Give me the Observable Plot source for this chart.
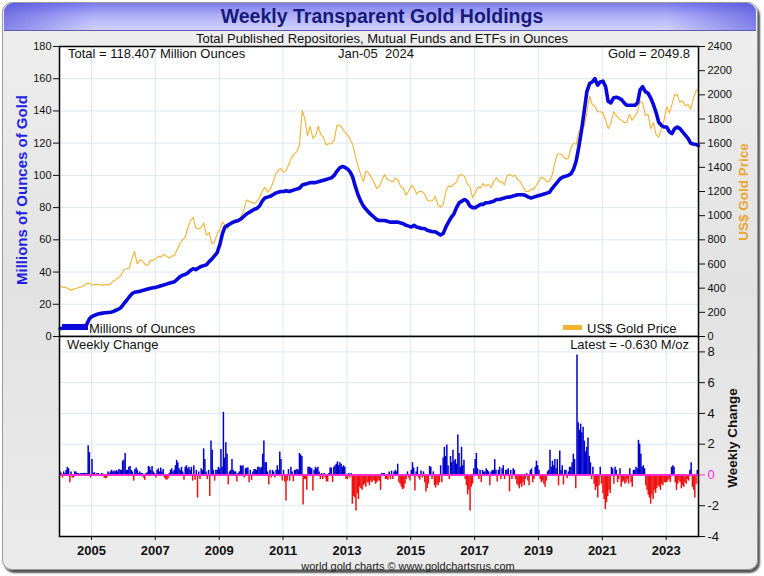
<!DOCTYPE html>
<html><head><meta charset="utf-8">
<script src="https://cdn.jsdelivr.net/npm/d3@7"></script>
<script src="https://cdn.jsdelivr.net/npm/@observablehq/plot@0.6"></script>
<style>
html,body{margin:0;padding:0;background:#fff;}
#chart{position:relative;width:764px;height:576px;overflow:hidden;font-family:"Liberation Sans",Arial,sans-serif;}
.panel{position:absolute;left:2px;top:2px;width:754px;height:566px;border-radius:10px;border:1px solid #9a9a9a;box-shadow:2px 3px 2px #555;background:linear-gradient(to bottom,#efefef,#e2e2e2 50%,#ebebeb);}
.titlebar{position:absolute;left:4px;top:3px;width:752px;height:27px;border-radius:9px 9px 0 0;border-bottom:1px solid #5a5ab0;
 background:linear-gradient(to right,rgba(70,70,215,0.55),rgba(70,70,215,0) 12%,rgba(70,70,215,0) 88%,rgba(70,70,215,0.55)),linear-gradient(to bottom,#7a7aee,#aeaef8 45%,#d2d2ff);}
.layer{position:absolute;left:0;}
.txt{position:absolute;font-size:13px;color:#111;white-space:nowrap;line-height:13px;}
.rot{position:absolute;width:300px;height:18px;line-height:18px;text-align:center;transform:rotate(-90deg);font-weight:bold;white-space:nowrap;}
</style></head>
<body>
<div id="chart">
  <div class="panel"></div>
  <div class="titlebar"></div>
</div>
<script>
// ---- Data ----
const monthYears = d3.range(2004, 2024);
// Total holdings, million oz, monthly Jan 2004 .. Dec 2023, then Jan-05 2024
const holdings = [
  5.0, 5.1, 5.2, 5.3, 5.4, 5.5, 5.6, 5.7, 5.8, 6.0, 7.5, 11.0,
  12.5, 13.2, 13.8, 14.2, 14.5, 14.7, 14.9, 15.1, 15.5, 16.3, 17.0, 18.2,
  20.5, 22.5, 24.5, 26.5, 27.5, 27.8, 28.0, 28.5, 29.0, 29.5, 30.0, 30.3,
  30.5, 31.0, 31.5, 32.0, 32.5, 33.0, 33.5, 34.0, 35.5, 37.0, 38.0, 38.5,
  39.5, 41.0, 42.0, 41.5, 42.5, 43.5, 44.0, 44.5, 46.5, 48.0, 50.0, 52.0,
  57, 64, 68, 69, 70, 71, 71.5, 72, 73, 74.5, 76, 77,
  78, 79, 79.5, 81, 84, 86, 86.5, 87, 88, 89, 89.5, 90,
  90, 90.5, 90, 90.5, 91, 91.5, 92, 94, 94.5, 95, 95.5, 95.5,
  95.5, 96, 96.5, 97, 97.5, 98, 98.5, 100, 102.5, 104.5, 105.5, 105,
  104, 102, 99, 93, 88, 84, 81, 79, 77, 75.5, 74, 72.5,
  72, 72, 72, 71.5, 71, 71, 71, 71, 70.5, 70, 69, 68.5,
  68, 69, 68, 67.5, 67, 67, 66, 65.5, 65, 65, 64, 63,
  64, 68, 71, 74, 76, 80, 83, 84, 85, 84, 81, 80,
  80, 81, 82, 82, 83, 83, 83.5, 84, 85, 85, 85.5, 86,
  86.5, 86.5, 87, 87.5, 88, 88, 88, 87.5, 86.5, 86, 86.5, 87,
  87.5, 88, 88.5, 89, 89.5, 92, 94, 96, 98, 99, 99.5, 100,
  101, 104, 109, 118, 128, 140, 152, 157, 158, 160, 156, 158,
  158.5, 155, 146, 145, 148, 148.5, 148, 147, 145, 143.5, 143.5, 143.5,
  143.5, 145, 153, 155, 152, 151, 148, 144, 139, 133, 131, 130,
  130, 127, 126, 129, 130, 129, 127, 125, 123, 120, 119.5, 119.2,
  118.407
];
// US$ gold price, monthly Jan 2004 .. Dec 2023, then Jan-05 2024
const goldPrice = [
  415, 405, 410, 395, 382, 392, 398, 405, 410, 422, 440, 440,
  425, 430, 432, 428, 422, 432, 425, 435, 460, 470, 490, 510,
  555, 560, 565, 640, 705, 600, 635, 625, 595, 590, 630, 630,
  645, 665, 660, 680, 665, 650, 665, 670, 720, 770, 800, 820,
  900, 960, 985, 900, 890, 900, 940, 840, 860, 770, 780, 850,
  880, 950, 920, 890, 940, 940, 940, 950, 995, 1040, 1130, 1120,
  1110, 1100, 1115, 1150, 1205, 1235, 1195, 1220, 1275, 1345, 1375, 1390,
  1360, 1375, 1425, 1480, 1510, 1530, 1580, 1870, 1800, 1660, 1740, 1640,
  1660, 1740, 1670, 1650, 1585, 1595, 1595, 1625, 1745, 1750, 1725, 1690,
  1670, 1630, 1590, 1490, 1410, 1340, 1280, 1370, 1350, 1315, 1275, 1225,
  1245, 1300, 1340, 1300, 1290, 1280, 1310, 1295, 1240, 1225, 1170, 1200,
  1250, 1230, 1180, 1200, 1200, 1180, 1130, 1120, 1125, 1160, 1090, 1070,
  1095, 1200, 1245, 1240, 1260, 1280, 1335, 1340, 1325, 1265, 1240, 1150,
  1190, 1235, 1230, 1265, 1245, 1260, 1235, 1285, 1315, 1280, 1280, 1255,
  1330, 1340, 1325, 1335, 1300, 1280, 1240, 1200, 1200, 1220, 1220, 1250,
  1290, 1320, 1305, 1280, 1285, 1340, 1440, 1510, 1510, 1495, 1470, 1475,
  1560, 1600, 1590, 1700, 1725, 1740, 1850, 1990, 1920, 1905, 1860, 1860,
  1850, 1790, 1720, 1760, 1860, 1830, 1805, 1790, 1770, 1775, 1840, 1790,
  1820, 1860, 1950, 1930, 1830, 1840, 1720, 1770, 1670, 1650, 1720, 1790,
  1900, 1850, 1920, 2000, 2000, 1940, 1950, 1910, 1920, 1880, 1970, 2030,
  2049.8
];
// Weekly change in holdings (million oz), 26 readings per year 2004..2023, then Jan-05 2024
const weeklyChange = [
  0.2,0.1,-0.2,0.2,0.1,0.3,0.5,0.4,-0.5,0.2,-0.2,-0.2,0.2,0.2,0.1,0.1,0.05,0.1,0.1,0.1,0.1,0.1,0.1,1.9,1.45,-0.2,
  1.0,0.1,0.15,-0.1,0.1,0.1,0.05,-0.1,0.1,0.05,-0.2,-0.25,-0.2,0.2,0.1,0.2,0.3,0.2,0.25,0.2,0.3,0.2,0.35,0.3,0.3,0.9,
  0.95,1.4,0.3,0.3,0.5,0.55,0.3,0.2,-0.4,0.35,0.45,0.3,0.1,0.2,0.1,0.1,-0.2,-0.35,0.1,0.15,0.55,0.5,0.3,0.55,0.2,0.1,
  -0.2,0.3,0.4,0.2,0.45,0.2,0.35,-0.2,-0.3,-0.35,-0.25,0.1,0.3,0.4,0.2,0.3,0.6,0.95,0.8,0.4,0.3,0.5,0.2,-0.35,0.5,0.6,
  0.4,0.5,0.3,0.5,-0.4,0.6,-0.35,0.3,-1.5,0.2,-0.3,0.4,0.3,1.7,1.0,0.2,-0.3,0.3,-1.4,2.2,1.6,0.3,-0.4,0.3,0.3,0.5,
  0.4,1.65,0.5,4.07,1.1,2.1,1.35,-0.65,0.2,0.3,1.0,0.3,0.2,0.2,-0.45,0.1,0.2,0.6,0.55,0.6,-0.2,0.4,0.45,0.45,-0.5,0.3,
  -0.35,0.2,0.35,0.35,0.3,0.5,0.5,0.4,0.5,1.35,2.2,0.8,0.8,0.2,-0.65,0.3,-0.2,0.3,0.2,-0.2,0.3,0.6,0.3,1.5,1.0,-0.4,
  0.3,-0.45,-1.7,-0.4,0.35,-0.4,0.5,0.2,-0.45,0.3,0.3,0.35,0.3,1.4,1.3,1.2,-1.95,-0.3,-0.3,-1.0,0.5,0.5,0.45,0.4,-1.05,0.3,
  0.5,0.4,0.5,0.2,-0.3,0.1,-0.3,0.1,-0.2,-0.45,-0.45,0.1,0.45,0.45,-0.5,0.5,0.6,0.7,0.85,0.6,0.8,0.7,0.5,0.6,0.5,-0.3,
  -0.3,0.1,-0.2,0.1,-1.9,-1.4,-1.5,-2.35,-1.2,-1.6,-0.8,-0.9,-1.0,-0.7,-0.6,-0.8,-0.5,-0.5,-0.7,-0.4,-0.5,-0.4,-0.4,-0.6,-0.5,-0.4,
  -0.4,-1.0,0.1,0.1,0.1,-0.3,-0.3,-0.35,0.2,-0.3,0.25,-0.3,0.2,0.3,0.2,0.7,-0.5,-0.6,-0.8,-0.95,-0.9,-0.6,-0.3,0.2,-0.2,-0.4,
  0.3,0.8,0.45,-1.05,0.2,0.5,-0.2,-0.35,0.25,-0.2,0.2,-0.5,-1.1,-0.9,-0.6,0.55,0.5,-0.3,0.2,-0.7,-0.85,-0.6,-0.7,-0.5,0.6,-0.5,
  1.1,1.8,1.2,1.95,0.6,-0.3,1.2,0.8,1.6,0.9,1.0,0.7,2.6,1.4,0.5,1.8,0.6,0.95,-0.3,-0.7,-1.3,-1.0,-2.35,-0.8,-0.6,0.4,
  1.0,1.4,0.4,-0.3,0.3,-0.5,0.3,0.2,0.2,0.4,0.3,0.2,-0.7,0.2,0.3,0.3,1.0,0.3,-0.45,0.3,0.5,-0.3,0.4,0.6,-0.3,0.3,
  0.3,0.4,-1.1,0.3,-0.3,0.4,0.3,-0.3,-0.6,-0.7,-0.9,-0.6,-0.8,-0.5,-0.7,-0.3,0.1,-0.4,-0.7,0.3,0.4,-0.5,-0.3,0.5,0.9,0.6,
  0.3,-0.3,-0.5,-0.4,-0.6,-0.8,-0.4,0.2,0.3,1.6,0.5,0.9,0.6,1.0,0.4,1.0,-0.7,1.55,0.3,0.6,-0.65,0.3,0.3,-0.25,0.2,0.5,
  0.5,0.8,1.35,1.0,-0.9,7.8,3.4,2.9,3.3,2.75,3.1,2.2,1.5,1.8,2.4,1.2,0.8,-0.3,0.5,-0.6,-1.0,-0.8,-1.5,-0.7,0.5,-0.6,
  -1.2,-1.6,-2.25,-1.8,-1.4,-1.0,-1.2,0.5,0.4,-0.6,0.5,0.3,-0.5,-0.3,0.4,-0.8,-0.5,-0.4,-0.6,-0.5,-0.3,-0.6,0.4,-0.5,-0.8,0.3,
  0.3,0.5,0.4,2.25,2.0,1.35,0.5,0.6,0.4,-0.7,-1.0,-1.3,-1.5,-1.9,-1.3,-1.6,-1.0,-1.2,-0.9,-0.7,-0.8,-1.0,-0.6,-0.7,-0.5,-0.5,
  -0.5,-0.4,-0.3,-0.5,0.5,0.6,0.5,-0.5,-1.0,-0.6,-0.4,-0.5,-0.9,-0.7,-0.8,-0.5,-0.6,-0.3,-0.4,0.3,0.8,-0.8,-1.0,-1.5,-0.6,0.3,
  -0.63
];
const yearTicks = d3.range(2005, 2024, 2);
const leftTicks = d3.range(0, 181, 20);
const rightTicks = d3.range(0, 2401, 200);
const changeTicks = [-4, -2, 2, 4, 6, 8];
const latestDate = new Date(Date.UTC(2024, 0, 5));

// ---- Tables built from the arrays ----
const monthDate = i => i < monthYears.length * 12 ? new Date(Date.UTC(2004 + Math.floor(i / 12), i % 12, 8)) : latestDate;
const holdRows = holdings.map((v, i) => ({date: monthDate(i), v}));
const goldRows = goldPrice.map((v, i) => ({date: monthDate(i), v}));
const chgRows = weeklyChange.map((v, i) => ({
  date: i < 520 ? new Date(Date.UTC(2004 + Math.floor(i / 26), 0, 7 + 14 * (i % 26))) : latestDate, v}));
const tickDates = yearTicks.map(y => new Date(Date.UTC(y, 0, 1)));

const FONT = '"Liberation Sans", Arial, sans-serif';
const plain = d => String(d);
const xDomain = [new Date(Date.UTC(2004, 0, 1)), new Date(Date.UTC(2024, 0, 6))];
const common = {width: 764, marginLeft: 59, marginRight: 66,
  style: {background: "transparent", overflow: "visible", fontFamily: FONT, color: "#111"}};
const topOpts = {...common, height: 337, marginTop: 46, marginBottom: 1,
  x: {type: "utc", domain: xDomain, axis: null}};
const GRID = "#dce8f1";

const chart = document.getElementById("chart");
function addLayer(svg, top) { svg.classList.add("layer"); svg.style.top = top + "px"; svg.style.position = "absolute"; chart.appendChild(svg); }

// Layer 1: white plot area + grid
addLayer(Plot.plot({...topOpts, y: {domain: [0, 180], axis: null}, marks: [
  Plot.frame({fill: "white", stroke: null}),
  Plot.gridX(tickDates, {stroke: GRID, strokeOpacity: 1}),
  Plot.gridY(leftTicks, {stroke: GRID, strokeOpacity: 1})
]}), 0);

// Layer 2: gold price with right axis
addLayer(Plot.plot({...topOpts, y: {domain: [0, 2400]}, marks: [
  Plot.lineY(goldRows, {x: "date", y: "v", stroke: "#f3b233", strokeWidth: 1.1}),
  Plot.axisY(rightTicks, {anchor: "right", tickSize: 6, tickPadding: 3, fontSize: 11, label: null, tickFormat: plain})
]}), 0);

// Layer 3: holdings with left axis and frame
addLayer(Plot.plot({...topOpts, y: {domain: [0, 180]}, marks: [
  Plot.lineY(holdRows, {x: "date", y: "v", stroke: "#0808dc", strokeWidth: 3.6}),
  Plot.axisY(leftTicks, {anchor: "left", tickSize: 6, tickPadding: 2, fontSize: 11, label: null, tickFormat: plain}),
  Plot.frame({stroke: "black", strokeWidth: 1.5})
]}), 0);

// Bottom panel: weekly change
addLayer(Plot.plot({...common, height: 240, marginTop: 0, marginBottom: 40,
  x: {type: "utc", domain: xDomain}, y: {domain: [-4, 9]}, marks: [
  Plot.frame({fill: "white", stroke: null}),
  Plot.gridX(tickDates, {stroke: GRID, strokeOpacity: 1}),
  Plot.gridY(changeTicks, {stroke: GRID, strokeOpacity: 1}),
  Plot.ruleX(chgRows, {filter: d => d.v >= 0, x: "date", y1: 0, y2: "v", stroke: "#0000cc", strokeWidth: 1.5}),
  Plot.ruleX(chgRows, {filter: d => d.v < 0, x: "date", y1: 0, y2: "v", stroke: "#f01010", strokeWidth: 1.5}),
  Plot.ruleY([0], {stroke: "#ff2bd0", strokeWidth: 2}),
  Plot.axisY(changeTicks, {anchor: "right", tickSize: 6, tickPadding: 3, fontSize: 13, label: null, tickFormat: plain}),
  Plot.axisY([0], {anchor: "right", tickSize: 6, tickPadding: 3, fontSize: 13, label: null, color: "#ff2bd0", tickFormat: plain}),
  Plot.axisX(tickDates, {tickFormat: d => String(d.getUTCFullYear()), tickSize: 4, tickPadding: 5, fontSize: 13, fontWeight: "bold", label: null}),
  Plot.frame({stroke: "black", strokeWidth: 1.5})
]}), 336);

// ---- Texts ----
function txt(s, left, top, css) {
  const d = document.createElement("div"); d.className = "txt"; d.textContent = s;
  d.style.left = left + "px"; d.style.top = top + "px"; Object.assign(d.style, css || {}); chart.appendChild(d); return d;
}
function rot(s, cx, cy, size, color) {
  const d = document.createElement("div"); d.className = "rot"; d.textContent = s;
  d.style.left = (cx - 150) + "px"; d.style.top = (cy - 9) + "px"; d.style.fontSize = size + "px"; d.style.color = color;
  chart.appendChild(d);
}
txt("Weekly Transparent Gold Holdings", 0, 6, {width: "764px", textAlign: "center", fontSize: "19.5px", lineHeight: "20px", fontWeight: "bold", color: "#161a7a"});
txt("Total Published Repositories, Mutual Funds and ETFs in Ounces", 0, 32, {width: "764px", textAlign: "center"});
txt("Total = 118.407 Million Ounces", 68, 47);
txt("Jan-05  2024", 338, 47, {whiteSpace: "pre"});
txt("Gold = 2049.8", 0, 47, {left: "auto", right: "74px"});
txt("Millions of Ounces", 89, 322);
txt("US$ Gold Price", 587, 322);
txt("Weekly Change", 67, 338);
txt("Latest = -0.630 M/oz", 0, 338, {left: "auto", right: "75px"});
txt("world gold charts \u00a9 www.goldchartsrus.com", 0, 561, {width: "816px", textAlign: "center", fontSize: "11px", lineHeight: "11px", color: "#222"});
// legend swatches
const sw1 = document.createElement("div"); Object.assign(sw1.style, {position: "absolute", left: "62px", top: "324px", width: "26px", height: "6px", background: "#0808dc"}); chart.appendChild(sw1);
const sw2 = document.createElement("div"); Object.assign(sw2.style, {position: "absolute", left: "563px", top: "325px", width: "19px", height: "5px", background: "#f3b233"}); chart.appendChild(sw2);
rot("Millions of Ounces of Gold", 22, 190, 15, "#1f1fe6");
rot("US$ Gold Price", 744, 192, 13.5, "#e9a630");
rot("Weekly Change", 733, 438, 13.5, "#111");
</script>
</body></html>
